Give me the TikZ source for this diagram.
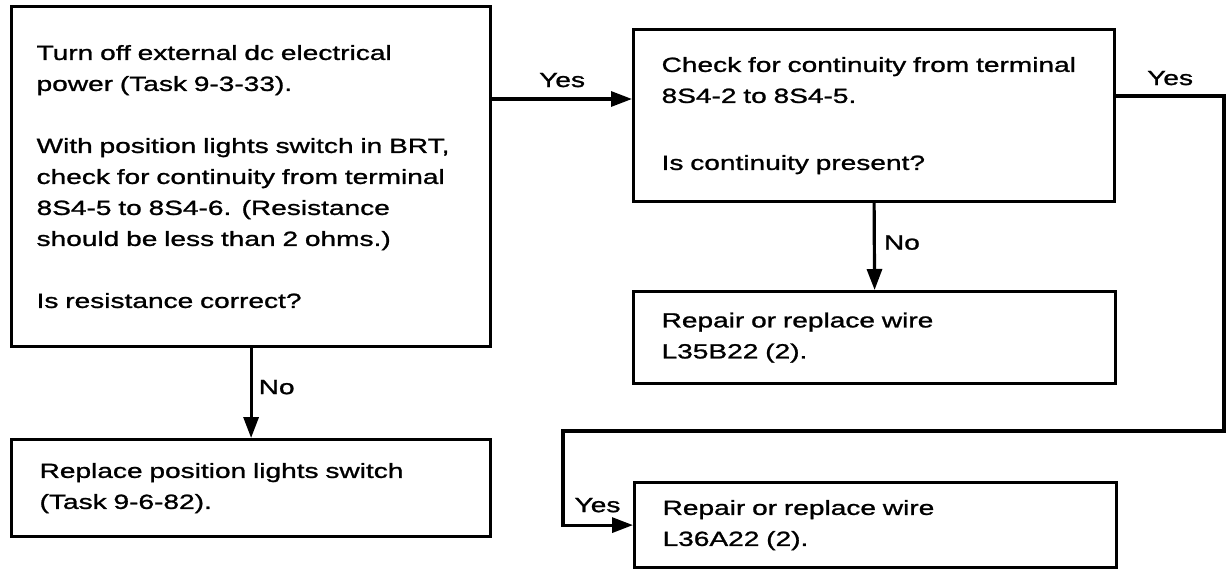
\documentclass[tikz,border=0pt]{standalone}
\usepackage{fontspec}
\setmainfont{Liberation Sans}[FakeStretch=1.37, FakeBold=1.2]
\usepackage{tikz}
\usetikzlibrary{arrows.meta,positioning,calc}

\begin{document}
\begin{tikzpicture}[
    x=1pt, y=-1pt,
    stepbox/.style={draw, line width=3.2pt, anchor=north west, align=left, inner xsep=28pt, inner ysep=0pt, font=\fontsize{20.5}{31}\selectfont},
    lbl/.style={inner sep=0pt, font=\fontsize{20.5}{31}\selectfont},
    arrow/.style={-{Triangle[length=21pt,width=15pt]}, line width=3.2pt}
]
\useasboundingbox (0,0) rectangle (1232,568);
\node[stepbox, inner xsep=25pt, text width=429pt, minimum height=340pt] (resist) at (10,5) {Turn off external dc electrical\\power (Task 9-3-33).\\[31pt]With position lights switch in BRT,\\check for continuity from terminal\\8S4-5 to 8S4-6. (Resistance\\should be less than 2 ohms.)\\[31pt]Is resistance correct?};
\node[stepbox, text width=423pt, minimum height=97pt] (switch) at (10,438) {Replace position lights switch\\(Task 9-6-82).};
\node[stepbox, text width=425pt, minimum height=172pt] (contin) at (632,28) {Check for continuity from terminal\\8S4-2 to 8S4-5.\\[36pt]Is continuity present?};
\node[stepbox, text width=426pt, minimum height=92pt] (wireB) at (632,290) {Repair or replace wire\\L35B22 (2).};
\node[stepbox, text width=426pt, minimum height=85pt] (wireA) at (633,481) {Repair or replace wire\\L36A22 (2).};
\coordinate (loopR) at (1224,431);
\coordinate (loopL) at (563,431);
\draw[arrow] ([yshift=-94pt]resist.north east) -- ([yshift=-94pt]resist.north east -| contin.west) node[lbl, midway, anchor=base, yshift=12pt] {Yes};
\draw[arrow] (resist.south) -- (switch.north) node[lbl, midway, anchor=base west, xshift=6pt, yshift=-1pt] {No};
\draw[arrow] (contin.south) -- (wireB.north) node[lbl, midway, anchor=base west, xshift=8pt, yshift=-3pt] {No};
\draw[arrow] ([yshift=-68pt]contin.north east) -| (loopR) node[lbl, pos=0.25, anchor=base, yshift=11pt] {Yes} -- (loopL) |- (wireA.west) node[lbl, pos=0.5, anchor=base west, xshift=10pt, yshift=13pt] {Yes};
\end{tikzpicture}
\end{document}
